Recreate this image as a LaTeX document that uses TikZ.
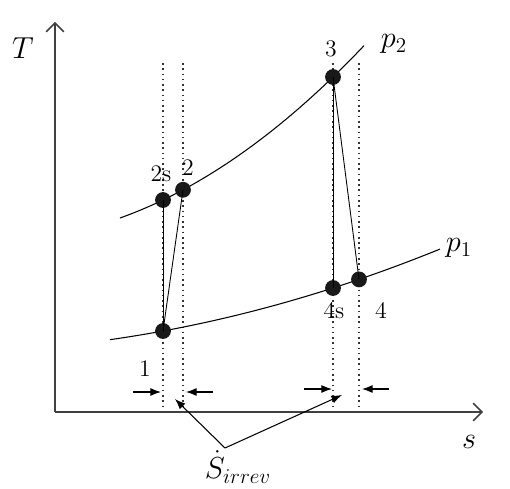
\documentclass[tikz,border=0pt]{standalone}
\usetikzlibrary{arrows.meta}
\begin{document}
\begin{tikzpicture}[x=0.02cm,y=-0.02cm,
  axis/.style={line width=0.8pt,draw=black!75,-{Straight Barb[length=5pt,width=10pt,line width=0.9pt]}},
  curve/.style={line width=0.6pt,black},
  guide/.style={dash pattern=on 0.9pt off 2.1pt,line width=0.9pt,black!80},
  dotpt/.style={circle,fill=black!90,inner sep=0pt,minimum size=9pt},
  lab/.style={font=\fontsize{13.5}{15}\selectfont,inner sep=1pt},
  biglab/.style={font=\fontsize{17}{20}\selectfont,inner sep=1pt},
  marker/.style={line width=0.6pt,-{Latex[length=6pt,width=4.5pt]}},
  pro/.style={line width=0.5pt}]
\useasboundingbox (0,0) rectangle (510,489);
% axes
\coordinate (O) at (55,412);
\coordinate (Ttip) at (55,22);
\coordinate (stip) at (483,412);
% guide lines
\foreach \x/\n in {163/a,183/b,333/c,359/d}{
  \coordinate (top\n) at (\x,63);
  \coordinate (bot\n) at (\x,412);
  \draw[guide] (top\n) -- (bot\n);
}
\draw[axis] (O) -- (Ttip);
\draw[axis] (O) -- (stip);
\node[biglab] (T) at (23,48) {$T$};
\node[biglab] (s) at (469,442) {$s$};
% curves
\draw[curve] plot[domain=120:364,samples=60] (\x,{200-0.4804*(\x-163)-0.143*((\x-163)/10)*((\x-163)/10)});
\draw[curve] plot[domain=110:440,samples=60] (\x,{331-0.185*(\x-163)-0.04*((\x-163)/10)*((\x-163)/10)});
\node[biglab] (p2) at (394,44) {$p_2$};
\node[biglab] (p1) at (459,248) {$p_1$};
% points
\node[dotpt] (n1) at (163,331) {};
\node[dotpt] (n2s) at (163,200) {};
\node[dotpt] (n2) at (183,189.8) {};
\node[dotpt] (n3) at (333,77) {};
\node[dotpt] (n4s) at (333,288) {};
\node[dotpt] (n4) at (359,279.4) {};
\draw[pro] (n1.center) -- (n2s.center);
\draw[pro] (n1.center) -- (n2.center);
\draw[pro] (n3.center) -- (n4s.center);
\draw[pro] (n3.center) -- (n4.center);
% labels
\node[lab] (l2s) at (161,174) {2s};
\node[lab] (l2) at (188,168) {2};
\node[lab] (l3) at (331,49) {3};
\node[lab] (l4s) at (334,311) {4s};
\node[lab] (l4) at (381,310) {4};
\node[lab] (l1) at (145,369) {1};
% markers
\coordinate (m1a) at (133,392); \coordinate (m1b) at (161,392);
\coordinate (m2a) at (213,392); \coordinate (m2b) at (186,392);
\coordinate (m3a) at (304,389); \coordinate (m3b) at (332,389);
\coordinate (m4a) at (389,389); \coordinate (m4b) at (362,389);
\draw[marker] (m1a) -- (m1b);
\draw[marker] (m2a) -- (m2b);
\draw[marker] (m3a) -- (m3b);
\draw[marker] (m4a) -- (m4b);
% S irrev
\node[biglab] (S) at (238,467) {$\dot S_{irrev}$};
\coordinate (Sp) at (225,448);
\coordinate (e1) at (175,399);
\coordinate (e2) at (342,395);
\draw[marker] (Sp) -- (e1);
\draw[marker] (Sp) -- (e2);
\end{tikzpicture}
\end{document}
